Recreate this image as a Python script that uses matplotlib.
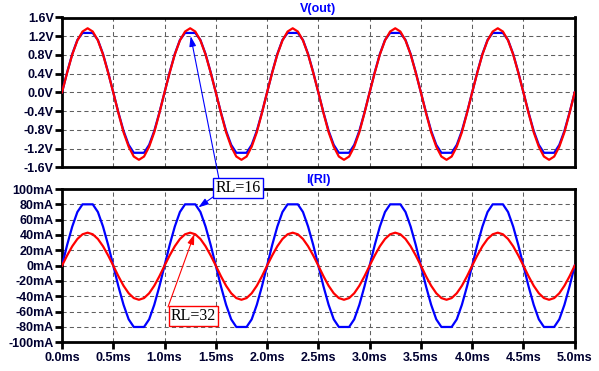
import numpy as np
import matplotlib
matplotlib.use("Agg")
import matplotlib.pyplot as plt
from matplotlib.ticker import FixedLocator

# ---------------- data ----------------
time_ms = np.linspace(0.0, 5.0, 101)   # sample instants, 0.05 ms apart

v_out_rl16 = [
    0, 0.43, 0.82, 1.12, 1.27, 1.27, 1.27, 1.12, 0.82, 0.43,
    0, -0.43, -0.82, -1.12, -1.29, -1.29, -1.29, -1.12, -0.82, -0.43,
    0, 0.43, 0.82, 1.12, 1.27, 1.27, 1.27, 1.12, 0.82, 0.43,
    0, -0.43, -0.82, -1.12, -1.29, -1.29, -1.29, -1.12, -0.82, -0.43,
    0, 0.43, 0.82, 1.12, 1.27, 1.27, 1.27, 1.12, 0.82, 0.43,
    0, -0.43, -0.82, -1.12, -1.29, -1.29, -1.29, -1.12, -0.82, -0.43,
    0, 0.43, 0.82, 1.12, 1.27, 1.27, 1.27, 1.12, 0.82, 0.43,
    0, -0.43, -0.82, -1.12, -1.29, -1.29, -1.29, -1.12, -0.82, -0.43,
    0, 0.43, 0.82, 1.12, 1.27, 1.27, 1.27, 1.12, 0.82, 0.43,
    0, -0.43, -0.82, -1.12, -1.29, -1.29, -1.29, -1.12, -0.82, -0.43,
    0,
]
v_out_rl32 = [
    0, 0.42, 0.81, 1.11, 1.30, 1.37, 1.30, 1.11, 0.81, 0.42,
    0, -0.44, -0.85, -1.16, -1.37, -1.44, -1.37, -1.16, -0.85, -0.44,
    0, 0.42, 0.81, 1.11, 1.30, 1.37, 1.30, 1.11, 0.81, 0.42,
    0, -0.44, -0.85, -1.16, -1.37, -1.44, -1.37, -1.16, -0.85, -0.44,
    0, 0.42, 0.81, 1.11, 1.30, 1.37, 1.30, 1.11, 0.81, 0.42,
    0, -0.44, -0.85, -1.16, -1.37, -1.44, -1.37, -1.16, -0.85, -0.44,
    0, 0.42, 0.81, 1.11, 1.30, 1.37, 1.30, 1.11, 0.81, 0.42,
    0, -0.44, -0.85, -1.16, -1.37, -1.44, -1.37, -1.16, -0.85, -0.44,
    0, 0.42, 0.81, 1.11, 1.30, 1.37, 1.30, 1.11, 0.81, 0.42,
    0, -0.44, -0.85, -1.16, -1.37, -1.44, -1.37, -1.16, -0.85, -0.44,
    0,
]
i_rl16_mA = [
    0, 27, 51, 70, 80, 80, 80, 70, 51, 27,
    0, -27, -51, -70, -80, -80, -80, -70, -51, -27,
    0, 27, 51, 70, 80, 80, 80, 70, 51, 27,
    0, -27, -51, -70, -80, -80, -80, -70, -51, -27,
    0, 27, 51, 70, 80, 80, 80, 70, 51, 27,
    0, -27, -51, -70, -80, -80, -80, -70, -51, -27,
    0, 27, 51, 70, 80, 80, 80, 70, 51, 27,
    0, -27, -51, -70, -80, -80, -80, -70, -51, -27,
    0, 27, 51, 70, 80, 80, 80, 70, 51, 27,
    0, -27, -51, -70, -80, -80, -80, -70, -51, -27,
    0,
]
i_rl32_mA = [
    0, 13.3, 25.3, 34.8, 40.9, 43.0, 40.9, 34.8, 25.3, 13.3,
    0, -13.8, -26.2, -36.0, -42.3, -44.5, -42.3, -36.0, -26.2, -13.8,
    0, 13.3, 25.3, 34.8, 40.9, 43.0, 40.9, 34.8, 25.3, 13.3,
    0, -13.8, -26.2, -36.0, -42.3, -44.5, -42.3, -36.0, -26.2, -13.8,
    0, 13.3, 25.3, 34.8, 40.9, 43.0, 40.9, 34.8, 25.3, 13.3,
    0, -13.8, -26.2, -36.0, -42.3, -44.5, -42.3, -36.0, -26.2, -13.8,
    0, 13.3, 25.3, 34.8, 40.9, 43.0, 40.9, 34.8, 25.3, 13.3,
    0, -13.8, -26.2, -36.0, -42.3, -44.5, -42.3, -36.0, -26.2, -13.8,
    0, 13.3, 25.3, 34.8, 40.9, 43.0, 40.9, 34.8, 25.3, 13.3,
    0, -13.8, -26.2, -36.0, -42.3, -44.5, -42.3, -36.0, -26.2, -13.8,
    0,
]

x_ticks = [0.0, 0.5, 1.0, 1.5, 2.0, 2.5, 3.0, 3.5, 4.0, 4.5, 5.0]
x_labels = ["0.0ms", "0.5ms", "1.0ms", "1.5ms", "2.0ms", "2.5ms",
            "3.0ms", "3.5ms", "4.0ms", "4.5ms", "5.0ms"]
v_ticks = [1.6, 1.2, 0.8, 0.4, 0.0, -0.4, -0.8, -1.2, -1.6]
v_labels = ["1.6V", "1.2V", "0.8V", "0.4V", "0.0V", "-0.4V", "-0.8V", "-1.2V", "-1.6V"]
i_ticks = [100, 80, 60, 40, 20, 0, -20, -40, -60, -80, -100]
i_labels = ["100mA", "80mA", "60mA", "40mA", "20mA", "0mA", "-20mA",
            "-40mA", "-60mA", "-80mA", "-100mA"]

top_title = "V(out)"
bottom_title = "I(Rl)"
label16 = "RL=16"
label32 = "RL=32"

# ---------------- styling ----------------
BLUE = "#0000ff"
RED = "#ff0000"
TXT = "#000030"
plt.rcParams["font.family"] = ["Liberation Sans", "DejaVu Sans"]

W, H = 599, 371
fig = plt.figure(figsize=(W / 100, H / 100), dpi=100)
fig.patch.set_facecolor("white")


def px_rect(l, t, r, b):
    return [l / W, 1 - b / H, (r - l) / W, (b - t) / H]


ax1 = fig.add_axes(px_rect(62, 17.5, 574.7, 167.3))
ax2 = fig.add_axes(px_rect(62, 189, 574.7, 342.3))

ax1.plot(time_ms, v_out_rl16, color=BLUE, lw=1.6, zorder=3)
ax1.plot(time_ms, v_out_rl32, color=RED, lw=1.6, zorder=4)
ax2.plot(time_ms, i_rl16_mA, color=BLUE, lw=1.6, zorder=3)
ax2.plot(time_ms, i_rl32_mA, color=RED, lw=1.6, zorder=4)

ax1.set_ylim(-1.6, 1.6)
ax2.set_ylim(-100, 100)
for ax, yt, yl in ((ax1, v_ticks, v_labels), (ax2, i_ticks, i_labels)):
    ax.set_xlim(0, 5)
    ax.xaxis.set_major_locator(FixedLocator(x_ticks))
    ax.yaxis.set_major_locator(FixedLocator(yt))
    ax.set_yticklabels(yl, fontsize=9, fontweight="bold", color=TXT)
    ax.grid(True, color="#606060", lw=0.75, linestyle=(0, (4, 3)))
    for s in ax.spines.values():
        s.set_linewidth(2.0)
        s.set_color("black")
    ax.tick_params(axis="y", direction="out", length=5, width=2, pad=1, colors="black",
                   labelcolor=TXT)
    ax.set_axisbelow(True)

ax1.tick_params(axis="x", length=0, labelbottom=False)
ax2.set_xticklabels(x_labels, fontsize=9, fontweight="bold", color=TXT)
ax2.tick_params(axis="x", direction="out", length=5, width=2, pad=2, colors="black",
                labelcolor=TXT)

fig.text(318 / W, 1 - 9 / H, top_title, color=BLUE, fontsize=9, fontweight="bold",
         ha="center", va="center")
fig.text(318 / W, 1 - 180.5 / H, bottom_title, color=BLUE, fontsize=9, fontweight="bold",
         ha="center", va="center")

# ---------------- annotations ----------------
serif = ["Liberation Serif", "DejaVu Serif"]
fig.text(238 / W, 1 - 188 / H, label16, family=serif, fontsize=11.5, color="black",
         ha="center", va="center", zorder=10,
         bbox=dict(boxstyle="square,pad=0.12", fc="white", ec=BLUE, lw=1))
fig.text(193.5 / W, 1 - 316 / H, label32, family=serif, fontsize=11.5, color="black",
         ha="center", va="center", zorder=10,
         bbox=dict(boxstyle="square,pad=0.12", fc="white", ec=RED, lw=1))

arrow_b = dict(arrowstyle="-|>,head_length=0.6,head_width=0.2", color=BLUE, lw=0.8,
               shrinkA=0, shrinkB=0)
arrow_r = dict(arrowstyle="-|>,head_length=0.6,head_width=0.2", color=RED, lw=0.8,
               shrinkA=0, shrinkB=0)
ax2.annotate("", xy=(1.255, 1.2), xycoords=ax1.transData,
             xytext=(219, H - 179), textcoords="figure pixels",
             arrowprops=arrow_b, annotation_clip=False, zorder=9)
ax2.annotate("", xy=(1.33, 76), xycoords="data",
             xytext=(213, H - 197), textcoords="figure pixels",
             arrowprops=arrow_b, annotation_clip=False, zorder=9)
ax2.annotate("", xy=(1.29, 41), xycoords="data",
             xytext=(168, H - 307), textcoords="figure pixels",
             arrowprops=arrow_r, annotation_clip=False, zorder=9)

fig.savefig("out.png", dpi=100)
